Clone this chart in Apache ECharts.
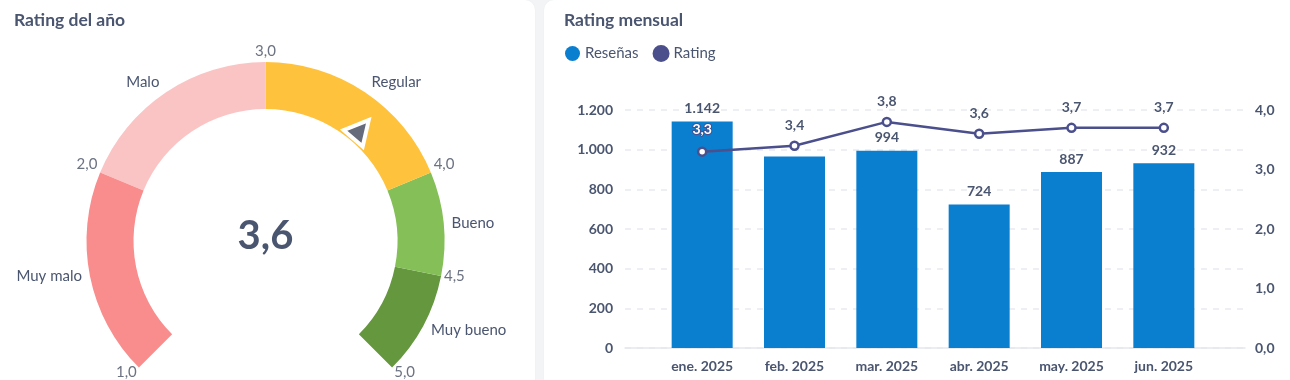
<!DOCTYPE html>
<html>
<head>
<meta charset="utf-8">
<script src="https://cdn.jsdelivr.net/npm/echarts@6/dist/echarts.min.js"></script>
<style>
  html, body { margin: 0; padding: 0; background: #f3f4f6; width: 1290px; height: 380px; overflow: hidden; }
  .card { position: absolute; background: #ffffff; border-radius: 10px; box-shadow: 0 0 2px rgba(0,0,0,0.04); }
  #chart { position: absolute; left: 0; top: 0; width: 1290px; height: 380px; }
</style>
</head>
<body>
<div class="card" style="left:-12px; top:0px; width:547px; height:400px;"></div>
<div class="card" style="left:544px; top:0px; width:760px; height:400px;"></div>
<div id="chart"></div>
<script>
// ---- data ----
const yearRating = 3.6;
const bandBounds = [1, 2, 3, 4, 4.5, 5];
const bandNames = ['Muy malo', 'Malo', 'Regular', 'Bueno', 'Muy bueno'];
const months = ['ene. 2025', 'feb. 2025', 'mar. 2025', 'abr. 2025', 'may. 2025', 'jun. 2025'];
const reviews = [1142, 966, 994, 724, 887, 932];
const ratings = [3.3, 3.4, 3.8, 3.6, 3.7, 3.7];
const reviewTicks = [0, 1200, 200];
const ratingTicks = [0, 4, 1];

// ---- styles ----
const bandColors = ['#F98C8C', '#FBC4C4', '#FFC23D', '#84BF57', '#65973F'];
const TEXT = '#4A5570';
const TICK = '#6B7282';
const FONT = 'Lato';
const BAR = '#0A7ECF';
const LINE = '#4B4F8C';

const fmtThousands = v => String(v).replace(/\B(?=(\d{3})+(?!\d))/g, '.');
const fmtDec = v => Number(v).toFixed(1).replace('.', ',');

const gMin = bandBounds[0], gMax = bandBounds[bandBounds.length - 1];
const gStart = 225, gEnd = -45;
const colorStops = bandColors.map((c, i) => [(bandBounds[i + 1] - gMin) / (gMax - gMin), c]);
const bandMids = bandNames.map((n, i) => (bandBounds[i] + bandBounds[i + 1]) / 2);
// labels lying clearly below the centre are top-aligned by ECharts; nudge them up a little
const isLow = v => Math.sin((gStart + (v - gMin) / (gMax - gMin) * (gEnd - gStart)) * Math.PI / 180) < -0.3;

const gaugeCenter = [265.5, 241];
const gaugeOuter = 179, gaugeInner = 132;

const chart = echarts.init(document.getElementById('chart'), null, { renderer: 'canvas' });

const option = {
  backgroundColor: 'transparent',
  animation: false,
  textStyle: { fontFamily: FONT },
  title: [
    { text: 'Rating del año', left: 14, top: 11, padding: 0, textStyle: { fontFamily: FONT, fontSize: 17.5, fontWeight: 'bold', color: TEXT } },
    { text: 'Rating mensual', left: 564, top: 11, padding: 0, textStyle: { fontFamily: FONT, fontSize: 17.5, fontWeight: 'bold', color: TEXT } }
  ],
  legend: {
    left: 565, top: 45, padding: 0, icon: 'circle', itemWidth: 15, itemHeight: 15, itemGap: 14,
    textStyle: { fontFamily: FONT, fontSize: 15, color: TEXT },
    data: [{ name: 'Reseñas', itemStyle: { color: BAR } }, { name: 'Rating', itemStyle: { color: LINE } }]
  },
  polar: { center: gaugeCenter, radius: [gaugeInner, gaugeOuter] },
  angleAxis: {
    type: 'value', min: gMin, max: gMax, interval: 0.25,
    startAngle: gStart, endAngle: gEnd, clockwise: true,
    axisLine: { show: false }, axisTick: { show: false }, splitLine: { show: false },
    axisLabel: {
      show: true, margin: 3,
      formatter: function (v) {
        const low = isLow(v) ? 'L' : '';
        if (bandBounds.indexOf(v) >= 0) return '{t' + low + '|' + fmtDec(v) + '}';
        const mi = bandMids.indexOf(v);
        if (mi >= 0) return '{n' + low + '|' + bandNames[mi] + '}';
        return '';
      },
      rich: {
        t: { fontFamily: FONT, fontSize: 15, color: TICK },
        tL: { fontFamily: FONT, fontSize: 15, color: TICK, lineHeight: 4 },
        n: { fontFamily: FONT, fontSize: 15, color: TEXT, padding: [0, 5, 0, 5] },
        nL: { fontFamily: FONT, fontSize: 15, color: TEXT, padding: [0, 5, 0, 5], lineHeight: 6 }
      }
    }
  },
  radiusAxis: { show: false, min: 0, max: 1 },
  grid: [
    { left: 625, right: 45, top: 110, bottom: 32 },
    { left: 656, right: 80, top: 110, bottom: 32 }
  ],
  xAxis: [
    { gridIndex: 0, type: 'value', min: 0, max: 1, show: true,
      axisLine: { show: true, lineStyle: { color: '#E6E8EC', width: 1.5 } },
      axisTick: { show: false }, axisLabel: { show: false }, splitLine: { show: false } },
    { gridIndex: 1, type: 'category', data: months, boundaryGap: true,
      axisLine: { show: false }, axisTick: { show: false }, splitLine: { show: false },
      axisLabel: { fontFamily: FONT, fontSize: 14, fontWeight: 'bold', color: TEXT, margin: 11 } }
  ],
  yAxis: [
    { gridIndex: 0, type: 'value', position: 'left', min: reviewTicks[0], max: reviewTicks[1], interval: reviewTicks[2],
      axisLine: { show: false }, axisTick: { show: false },
      splitLine: { show: true, lineStyle: { color: '#E8EAEE', type: [6, 6], width: 1.5 } },
      axisLabel: { fontFamily: FONT, fontSize: 14, fontWeight: 'bold', color: TEXT, margin: 12, formatter: fmtThousands } },
    { gridIndex: 0, type: 'value', position: 'right', min: ratingTicks[0], max: ratingTicks[1], interval: ratingTicks[2],
      axisLine: { show: false }, axisTick: { show: false }, splitLine: { show: false },
      axisLabel: { fontFamily: FONT, fontSize: 14, fontWeight: 'bold', color: TEXT, margin: 10, formatter: fmtDec } },
    { gridIndex: 1, type: 'value', show: false, min: reviewTicks[0], max: reviewTicks[1], interval: reviewTicks[2], splitLine: { show: false } },
    { gridIndex: 1, type: 'value', show: false, min: ratingTicks[0], max: ratingTicks[1], interval: ratingTicks[2], splitLine: { show: false } }
  ],
  series: [
    {
      type: 'gauge', center: gaugeCenter, radius: gaugeOuter,
      min: gMin, max: gMax, startAngle: gStart, endAngle: gEnd,
      axisLine: { lineStyle: { width: gaugeOuter - gaugeInner, color: colorStops } },
      axisTick: { show: false }, splitLine: { show: false, length: 0 }, axisLabel: { show: false },
      anchor: { show: false },
      pointer: {
        show: true, icon: 'triangle', length: 24, width: 25, offsetCenter: [0, -135],
        itemStyle: { color: '#656B7B', borderColor: '#FFFFFF', borderWidth: 4 }
      },
      title: { show: false },
      detail: {
        show: true, offsetCenter: [0, -5], fontFamily: FONT, fontSize: 40, fontWeight: 'bold', color: TEXT,
        formatter: fmtDec
      },
      data: [{ value: yearRating }]
    },
    {
      name: 'Reseñas', type: 'bar', xAxisIndex: 1, yAxisIndex: 2, barWidth: 61,
      itemStyle: { color: BAR },
      label: { show: true, position: 'top', distance: 6, fontFamily: FONT, fontSize: 14, fontWeight: 'bold', color: TEXT, formatter: p => fmtThousands(p.value) },
      data: reviews.map((v, i) => i === 1 ? { value: v, label: { show: false } } : v)
    },
    {
      name: 'Rating', type: 'line', xAxisIndex: 1, yAxisIndex: 3,
      symbol: 'circle', symbolSize: 8,
      lineStyle: { color: LINE, width: 2.5 },
      itemStyle: { color: '#FFFFFF', borderColor: LINE, borderWidth: 2.5 },
      label: { show: true, position: 'top', distance: 8, fontFamily: FONT, fontSize: 14, fontWeight: 'bold', color: TEXT, formatter: p => fmtDec(p.value) },
      data: ratings.map((v, i) => i === 0 ? { value: v, label: { color: '#FFFFFF', textBorderColor: LINE, textBorderWidth: 2, distance: 10 } } : v),
      z: 5
    }
  ]
};
chart.setOption(option);
</script>
</body>
</html>
